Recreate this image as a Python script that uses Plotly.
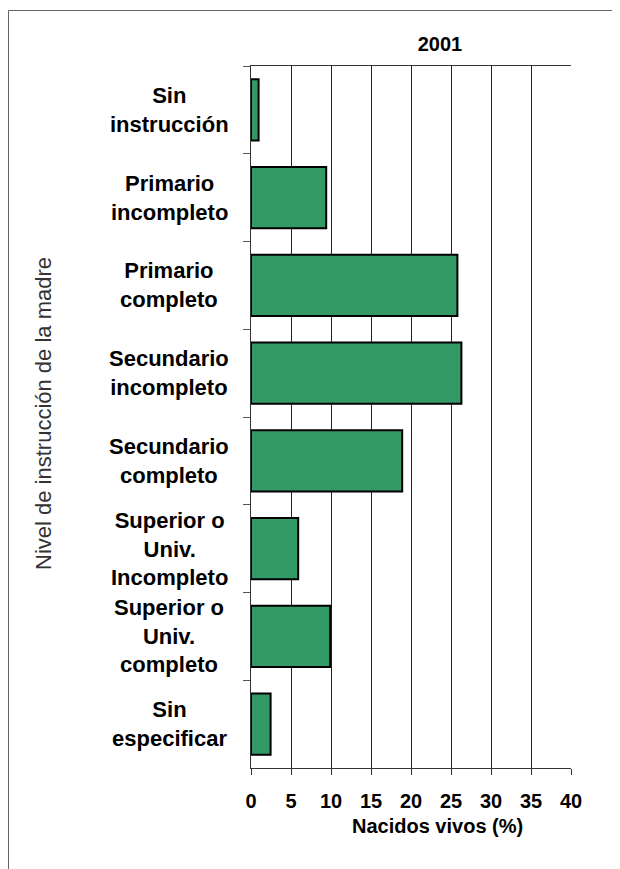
import plotly.graph_objects as go

# ─────────────────────────────────────────────────────────────
# Data
# ─────────────────────────────────────────────────────────────
CATEGORIES = [
    "Sin<br>instrucción",
    "Primario<br>incompleto",
    "Primario<br>completo",
    "Secundario<br>incompleto",
    "Secundario<br>completo",
    "Superior o<br>Univ.<br>Incompleto",
    "Superior o<br>Univ.<br>completo",
    "Sin<br>especificar",
]
VALUES = [0.95, 9.4, 25.8, 26.3, 18.9, 5.9, 9.9, 2.45]
X_TICKS = [0, 5, 10, 15, 20, 25, 30, 35, 40]

TITLE = "2001"
X_TITLE = "Nacidos vivos (%)"
Y_TITLE = "Nivel de instrucción de la madre"

BAR_COLOR = "#339966"
FONT = "Liberation Sans, Arial, sans-serif"

# page is 620 x 869, the figure div sits 8px in from the body edge
OFF = 8
W, H = 620 - OFF, 869 - OFF
# plot area in page pixels: x 251..571, y 66..768
L, R, T, B = 251 - OFF, 620 - 571, 66 - OFF, 869 - 768
PW, PH = W - L - R, H - T - B


def px_x(px):
    return (px - OFF - L) / PW


def px_y(py):
    return (H - B - (py - OFF)) / PH


fig = go.Figure()

fig.add_trace(go.Bar(
    x=VALUES,
    y=CATEGORIES,
    orientation="h",
    marker=dict(color=BAR_COLOR, line=dict(color="black", width=2)),
    hoverinfo="x",
    showlegend=False,
))

# category labels, centred multi-line text like the original
for cat in CATEGORIES:
    fig.add_annotation(
        x=px_x(169), xref="paper", xanchor="center",
        y=cat, yref="y", yanchor="middle",
        text=f"<b>{cat}</b>", showarrow=False, align="center",
        font=dict(family=FONT, size=22, color="black"),
    )

# axis titles
fig.add_annotation(
    x=px_x(437), xref="paper", xanchor="center",
    y=px_y(826), yref="paper", yanchor="middle",
    text=f"<b>{X_TITLE}</b>", showarrow=False,
    font=dict(family=FONT, size=20, color="black"),
)
fig.add_annotation(
    x=px_x(43), xref="paper", xanchor="center",
    y=px_y(414), yref="paper", yanchor="middle",
    text=Y_TITLE, showarrow=False, textangle=-90,
    font=dict(family=FONT, size=22, color="#333333"),
)

# outer frame (runs off the right and bottom edges)
fig.add_shape(
    type="rect", xref="paper", yref="paper",
    x0=px_x(8.5), x1=px_x(640), y0=px_y(890), y1=px_y(10.5),
    line=dict(color="#666666", width=1), layer="below",
)

fig.update_layout(
    width=W, height=H,
    margin=dict(l=L, r=R, t=T, b=B),
    paper_bgcolor="white",
    plot_bgcolor="white",
    bargap=0.3,
    title=dict(
        text=f"<b>{TITLE}</b>", x=(440 - OFF) / W, xanchor="center",
        y=1 - (44 - OFF) / H, yanchor="middle",
        font=dict(family=FONT, size=20, color="black"),
    ),
    font=dict(family=FONT, color="black"),
    xaxis=dict(
        range=[0, 40], tickvals=X_TICKS, ticktext=[str(v) for v in X_TICKS],
        showgrid=True, gridcolor="#222222", gridwidth=1,
        showline=True, linecolor="#333333", linewidth=1, mirror=True,
        ticks="outside", ticklen=6, tickcolor="#333333",
        tickfont=dict(family=FONT, size=20, color="black", weight="bold"),
        ticklabelstandoff=9,
        zeroline=False, fixedrange=True,
    ),
    yaxis=dict(
        categoryorder="array", categoryarray=CATEGORIES,
        autorange="reversed",
        showticklabels=False,
        ticks="outside", tickson="boundaries", ticklen=7, tickcolor="#555555",
        showline=True, linecolor="#333333", linewidth=1,
        showgrid=False, zeroline=False, fixedrange=True,
    ),
)

fig.write_html("out.html")
